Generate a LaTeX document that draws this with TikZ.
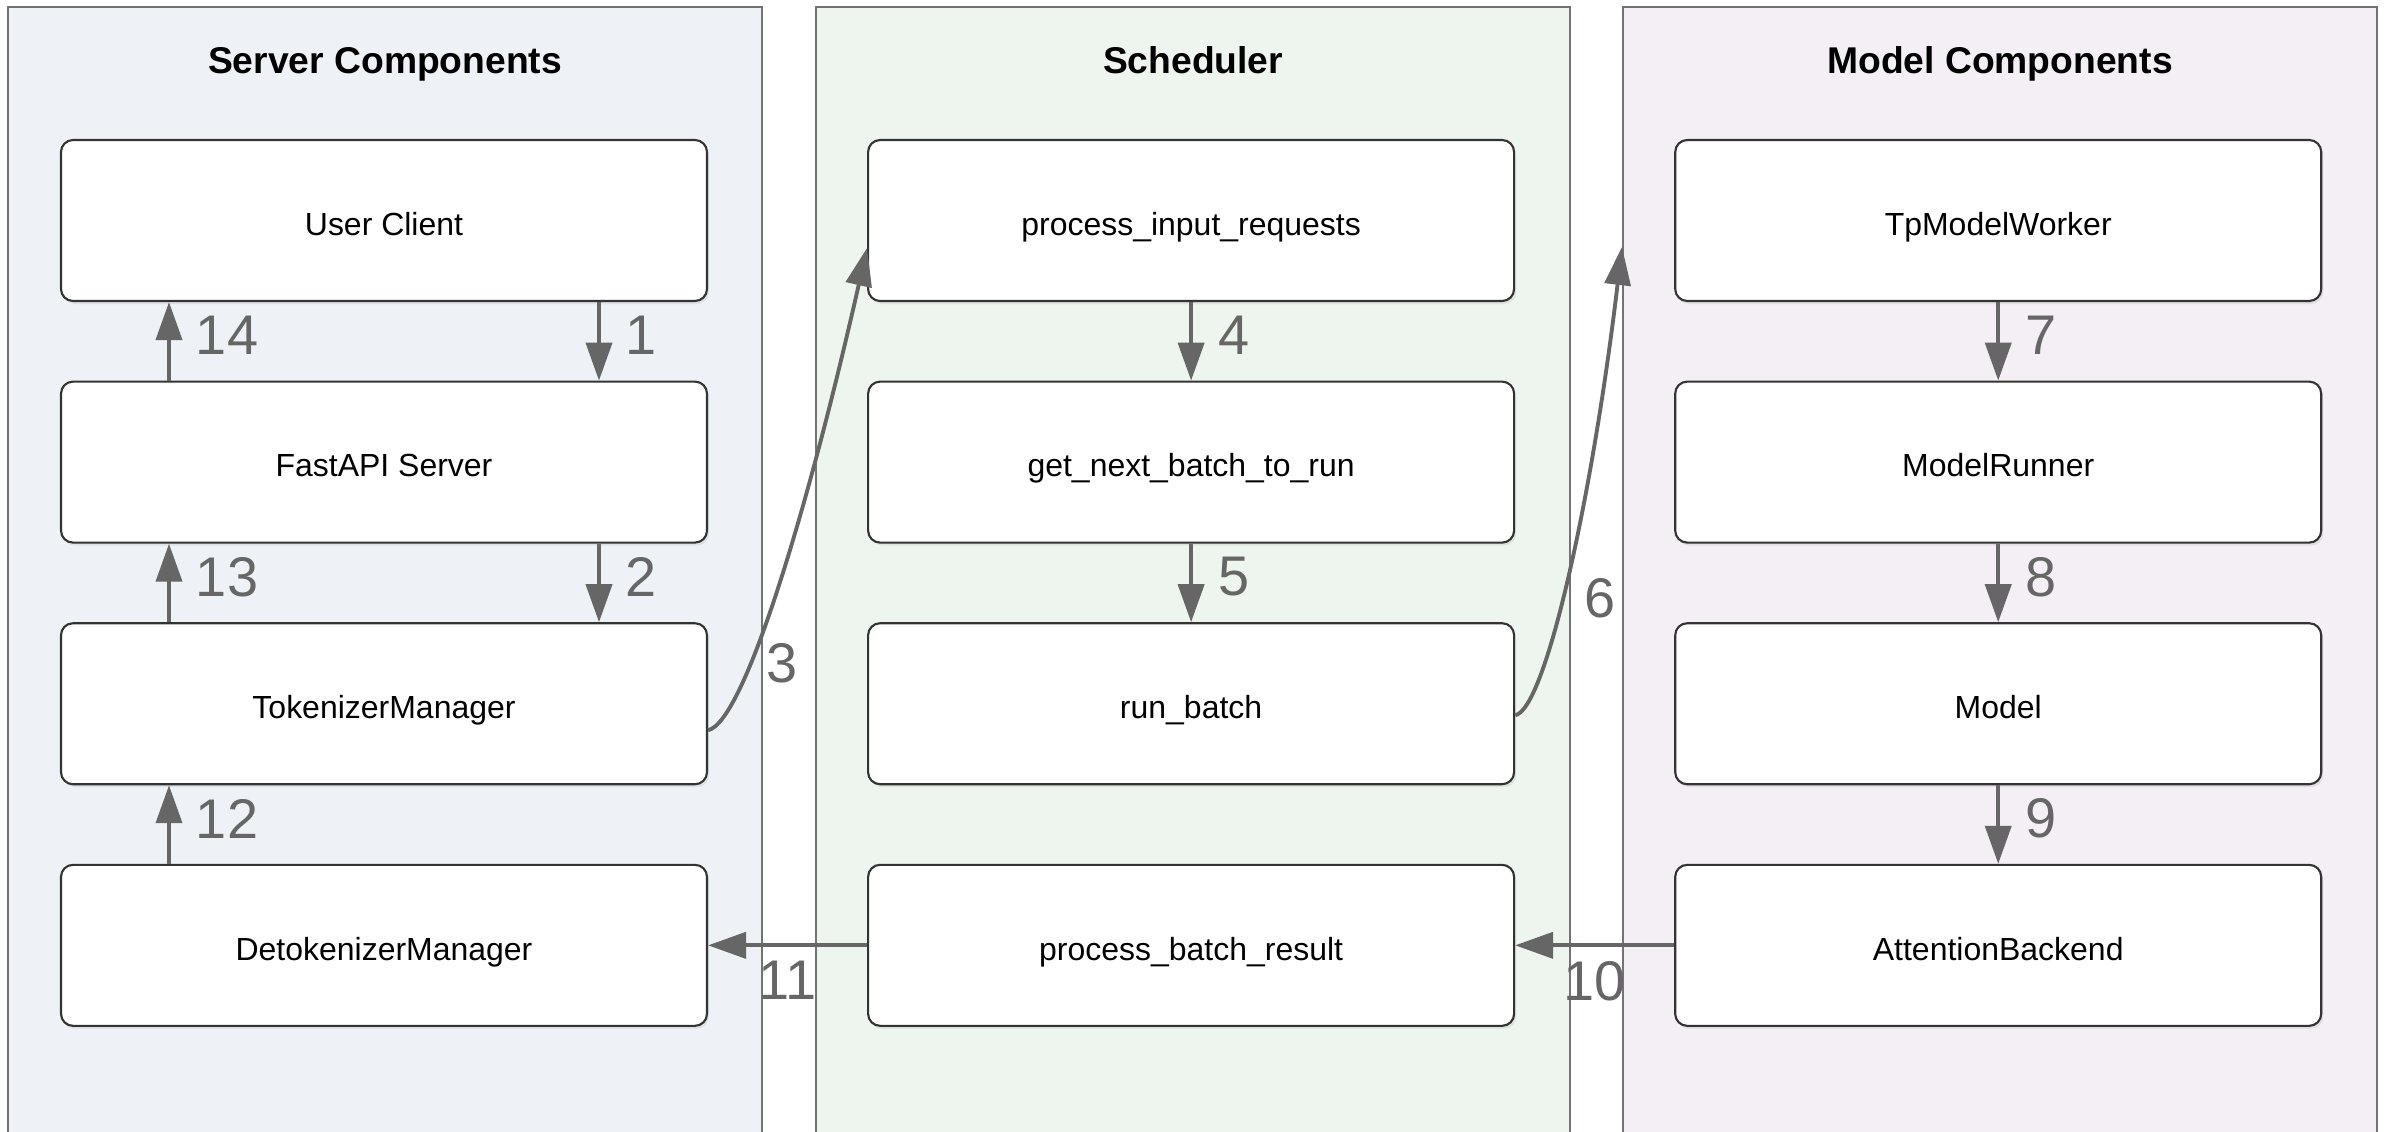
\documentclass[tikz,border=0pt]{standalone}
\usepackage{fontspec}
\setmainfont{Liberation Sans}
\usetikzlibrary{arrows.meta}
\usetikzlibrary{positioning}
\usetikzlibrary{shadows}
\definecolor{srvfill}{RGB}{238,242,247}
\definecolor{schfill}{RGB}{238,245,238}
\definecolor{mclfill}{RGB}{243,239,244}
\definecolor{clusterline}{RGB}{115,115,115}
\definecolor{boxline}{RGB}{51,51,51}
\definecolor{flowgray}{RGB}{102,102,102}
\tikzset{
  cluster/.style={draw=clusterline, line width=0.6pt, anchor=north west,
    minimum width=7.54cm, minimum height=11.4cm, inner sep=0pt},
  title/.style={font=\fontsize{10.6}{12}\selectfont\bfseries,
    text height=7.7pt, text depth=2.2pt},
  comp/.style={draw=boxline, fill=white, line width=0.6pt, rounded corners=0.12cm,
    minimum width=6.46cm, minimum height=1.61cm, inner sep=0pt,
    font=\fontsize{9.1}{11}\selectfont, text height=8.4pt, text depth=0pt,
    drop shadow={shadow xshift=0.02cm, shadow yshift=-0.03cm, opacity=0.14}},
  flow/.style={draw=flowgray, line width=1.1pt,
    -{Triangle[length=10.8pt, width=7.4pt]}},
  num/.style={text=flowgray, inner sep=0pt, font=\fontsize{15.9}{18}\selectfont},
  vnum/.style={num, midway, right=0.25cm, yshift=0.06cm},
  hnum/.style={num, midway, below=0.14cm},
}

\begin{document}
\begin{tikzpicture}[node distance=0.785cm and 1.59cm]
    \useasboundingbox (0,0) rectangle (23.92,-11.31);
    \clip (0,0) rectangle (23.92,-11.31);

    \node [cluster, fill=srvfill] (srv) at (0.07,-0.06) {};
    \node [cluster, fill=schfill] (sch) at (8.15,-0.06) {};
    \node [cluster, fill=mclfill] (mcl) at (16.22,-0.06) {};
    \node [title] at ([yshift=-0.58cm]srv.north) {Server Components};
    \node [title] at ([yshift=-0.58cm]sch.north) {Scheduler};
    \node [title] at ([yshift=-0.58cm]mcl.north) {Model Components};

    \node [comp] (uc) at (3.84,-2.205) {User Client};
    \node [comp, below=of uc] (fas) {FastAPI Server};
    \node [comp, below=of fas] (tkm) {TokenizerManager};
    \node [comp, below=of tkm] (dtk) {DetokenizerManager};

    \node [comp, right=of uc] (pir) {process\_input\_requests};
    \node [comp, below=of pir] (gnb) {get\_next\_batch\_to\_run};
    \node [comp, below=of gnb] (rnb) {run\_batch};
    \node [comp, below=of rnb] (pbr) {process\_batch\_result};

    \node [comp, right=of pir] (tpw) {TpModelWorker};
    \node [comp, below=of tpw] (mrn) {ModelRunner};
    \node [comp, below=of mrn] (mod) {Model};
    \node [comp, below=of mod] (atb) {AttentionBackend};

    \coordinate (tpwin) at ([yshift=-0.265cm]tpw.west -| mcl.west);

    \draw [flow] ([xshift=2.15cm]uc.south) -- ([xshift=2.15cm]fas.north) node [vnum] {1};
    \draw [flow] ([xshift=2.15cm]fas.south) -- ([xshift=2.15cm]tkm.north) node [vnum] {2};
    \draw [flow] ([yshift=-0.265cm]tkm.east) .. controls +(0.37,0.08) and +(-0.57,-2.52) .. ([yshift=-0.275cm]pir.west)
      node [num, pos=0.32, right=0.14cm] {3};
    \draw [flow] (pir) -- (gnb) node [vnum] {4};
    \draw [flow] (gnb) -- (rnb) node [vnum] {5};
    \draw [flow] ([yshift=-0.115cm]rnb.east) .. controls +(0.30,0.05) and +(-0.30,-2.53) .. (tpwin)
      node [num, pos=0.45, right=0.2cm] {6};
    \draw [flow] (tpw) -- (mrn) node [vnum] {7};
    \draw [flow] (mrn) -- (mod) node [vnum] {8};
    \draw [flow] (mod) -- (atb) node [vnum] {9};
    \draw [flow] (atb) -- (pbr) node [hnum] {10};
    \draw [flow] (pbr) -- (dtk) node [hnum] {11};
    \draw [flow] ([xshift=-2.15cm]dtk.north) -- ([xshift=-2.15cm]tkm.south) node [vnum] {12};
    \draw [flow] ([xshift=-2.15cm]tkm.north) -- ([xshift=-2.15cm]fas.south) node [vnum] {13};
    \draw [flow] ([xshift=-2.15cm]fas.north) -- ([xshift=-2.15cm]uc.south) node [vnum] {14};
\end{tikzpicture}
\end{document}
